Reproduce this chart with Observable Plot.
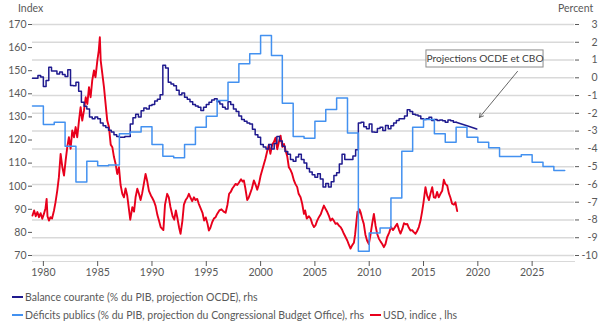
<!DOCTYPE html>
<html><head><meta charset="utf-8">
<script src="https://cdn.jsdelivr.net/npm/d3@7"></script>
<script src="https://cdn.jsdelivr.net/npm/@observablehq/plot@0.6"></script>
<style>
body{margin:0;background:#fff;font-family:Lato,sans-serif;}
#wrap{position:relative;width:605px;height:323px;overflow:hidden;}
.lbl{position:absolute;top:2px;font-size:10.5px;color:#595959;}
.legend{position:absolute;left:12px;font-size:10.5px;color:#595959;white-space:nowrap;line-height:14px;}
.sw{display:inline-block;width:11px;height:2px;vertical-align:middle;margin-right:2px;position:relative;top:-1px;}
.item{margin-right:6px;}
</style></head><body>
<div id="wrap">
<div id="chart"></div>
<div class="lbl" style="left:18px">Index</div>
<div class="lbl" style="left:558px">Percent</div>
<div class="legend" id="lg1" style="top:290px"></div>
<div class="legend" id="lg2" style="top:308px"></div>
</div>
<script>
// ---------- data ----------
const seriesNames = ["Balance courante (% du PIB, projection OCDE), rhs",
  "Déficits publics (% du PIB, projection du Congressional Budget Office), rhs",
  "USD, indice , lhs"];
const xTicks = [1980,1985,1990,1995,2000,2005,2010,2015,2020,2025];
const leftTicks = [70,80,90,100,110,120,130,140,150,160,170];
const rightTicks = [-10,-9,-8,-7,-6,-5,-4,-3,-2,-1,0,1,2,3];

// current account, % GDP, quarterly from 1979Q1 to 2017Q4
const caStart = 1979;
const caQuarterly = [
  -0.02,-0.02,0.13,0.04,  -0.49,-0.15,0.6,0.38,  0.38,0.22,0.32,0.18,  0.07,0.45,-0.43,-0.45,
  -0.25,-0.75,-1.37,-1.6,  -1.75,-2.2,-2.3,-2.2,  -2.3,-2.55,-2.7,-2.8,  -2.95,-3.05,-3.2,-3.3,
  -3.35,-3.35,-3.3,-3.3,  -2.6,-2.25,-2.05,-2.2,  -1.85,-1.7,-1.75,-1.56,  -1.5,-1.3,-1.2,-0.95,
  0.7,0.55,-0.25,-0.35,  -0.45,-0.7,-0.95,-0.85,  -1.1,-1.2,-1.35,-1.5,  -1.58,-1.65,-1.84,-1.65,
  -1.5,-1.37,-1.25,-1.18,  -1.35,-1.47,-1.65,-1.75,  -1.35,-1.5,-1.75,-1.9,  -2.15,-2.35,-2.45,-2.55,
  -2.6,-2.9,-3.2,-3.35,  -3.75,-3.9,-4.0,-3.75,  -4.0,-3.7,-3.3,-3.55,  -3.85,-4.15,-4.3,-4.6,
  -4.7,-4.45,-4.3,-4.6,  -4.8,-5.1,-5.3,-5.45,  -5.6,-5.4,-5.7,-6.15,  -5.95,-6.15,-5.85,-5.5,
  -5.35,-4.85,-4.3,-4.6,  -4.6,-4.6,-4.4,-4.05,  -2.55,-2.5,-2.75,-2.87,  -2.6,-3.05,-3.06,-2.85,
  -2.78,-2.97,-2.68,-2.87,  -2.7,-2.55,-2.4,-2.3,  -2.3,-2.15,-1.8,-1.9,  -2.05,-2.1,-2.15,-2.3,
  -2.35,-2.3,-2.22,-2.4,  -2.35,-2.4,-2.38,-2.42,  -2.5,-2.37,-2.42,-2.5
];
// OECD projection
const caProjYears = [2018.0, 2019.0, 2019.9];
const caProjValues = [-2.5, -2.7, -2.88];

// federal budget balance, % GDP, annual 1979..2027 (CBO projection after 2017)
const defStart = 1979;
const deficits = [-1.58,-2.63,-2.5,-3.85,-5.87,-4.69,-4.95,-4.9,-3.15,-3.05,
  -2.75,-3.75,-4.41,-4.5,-3.75,-2.78,-2.16,-1.28,-0.25,0.79,
  1.35,2.38,1.26,-1.43,-3.3,-3.4,-2.44,-1.78,-1.13,-3.1,
  -9.76,-8.73,-8.45,-6.77,-4.13,-2.78,-2.35,-3.15,-3.62,-2.78,
  -3.34,-3.62,-3.94,-4.43,-4.43,-4.33,-4.75,-4.99,-5.22];

// USD index (lhs)
const usdYears = [1979.0,1979.15,1979.3,1979.45,1979.6,1979.75,1979.9,1980.05,1980.2,1980.3,1980.38,1980.52,1980.65,1980.8,1980.98,
 1981.12,1981.28,1981.43,1981.59,1981.75,1981.9,1982.05,1982.2,1982.35,1982.51,1982.66,1982.82,1982.97,1983.12,1983.28,1983.43,1983.58,1983.74,1983.9,
 1984.05,1984.2,1984.35,1984.5,1984.66,1984.8,1984.97,1985.1,1985.2,1985.28,1985.43,1985.58,1985.73,1985.88,1986.04,1986.2,1986.35,1986.5,1986.65,1986.8,1986.96,
 1987.11,1987.27,1987.42,1987.57,1987.72,1987.88,1988.0,1988.19,1988.35,1988.49,1988.65,1988.8,1988.95,1989.1,1989.25,1989.41,1989.55,1989.72,1989.9,
 1990.02,1990.18,1990.33,1990.5,1990.65,1990.8,1991.05,1991.2,1991.4,1991.55,1991.7,1991.9,1992.05,1992.2,1992.35,1992.5,1992.63,1992.8,1992.94,
 1993.1,1993.25,1993.4,1993.55,1993.7,1993.86,1994.0,1994.17,1994.3,1994.5,1994.65,1994.8,1994.95,1995.1,1995.24,1995.38,1995.55,1995.7,1995.86,
 1996.0,1996.2,1996.4,1996.6,1996.78,1996.95,1997.1,1997.25,1997.4,1997.55,1997.7,1997.85,1998.0,1998.2,1998.35,1998.46,1998.6,1998.77,1998.9,
 1999.05,1999.2,1999.38,1999.55,1999.69,1999.85,2000.0,2000.15,2000.3,2000.45,2000.6,2000.76,2000.9,2001.07,2001.22,2001.38,2001.53,2001.68,2001.84,
 2002.0,2002.15,2002.3,2002.45,2002.6,2002.76,2002.9,2003.07,2003.2,2003.37,2003.5,2003.68,2003.83,2003.99,2004.1,2004.25,2004.45,2004.6,2004.76,2004.91,
 2005.05,2005.2,2005.37,2005.55,2005.7,2005.83,2006.0,2006.14,2006.3,2006.44,2006.6,2006.75,2006.9,2007.05,2007.2,2007.36,2007.52,2007.67,2007.82,2007.98,
 2008.1,2008.28,2008.44,2008.59,2008.7,2008.85,2008.92,2009.0,2009.1,2009.2,2009.35,2009.5,2009.65,2009.8,2009.97,2010.12,2010.27,2010.43,2010.58,2010.73,2010.9,
 2011.05,2011.2,2011.35,2011.5,2011.65,2011.85,2012.0,2012.2,2012.4,2012.57,2012.75,2012.88,2013.05,2013.2,2013.35,2013.5,2013.65,2013.8,2013.95,
 2014.1,2014.26,2014.4,2014.57,2014.72,2014.87,2015.0,2015.18,2015.33,2015.5,2015.65,2015.8,2015.95,2016.1,2016.25,2016.4,2016.56,2016.72,2016.87,
 2017.0,2017.18,2017.33,2017.48,2017.63,2017.8,2017.94,2018.1];
const usdValues = [87.3,89.5,87.0,88.8,86.6,88.3,85.9,88.0,90.5,94.5,87.0,85.1,86.6,86.0,89.5,
 93.1,98.1,103.9,114.0,108.2,104.6,111.1,116.9,121.2,116.2,124.1,121.2,125.6,121.2,128.4,134.2,128.4,132.8,138.5,
 135.6,142.9,138.5,145.8,150.1,147.2,154.4,158.7,164.5,154.4,148.6,142.9,135.6,128.4,125.6,118.0,116.9,112.6,109.7,105.3,108.2,
 100.5,96.7,95.2,99.0,96.0,90.0,85.5,90.9,89.0,95.2,98.9,96.7,94.0,97.0,101.0,105.3,102.5,98.0,96.0,
 95.0,93.5,91.5,87.5,85.0,82.3,81.0,92.0,96.7,95.2,91.0,87.0,85.5,89.5,86.0,82.0,79.4,85.0,92.0,
 94.0,95.0,96.7,95.0,93.5,95.2,94.0,94.5,92.5,90.2,88.5,85.1,86.5,84.0,80.8,82.0,84.5,86.0,86.6,
 88.0,89.5,90.0,89.0,88.5,92.0,96.7,97.5,99.0,100.0,101.0,100.5,101.5,103.0,102.0,102.5,99.0,94.0,95.0,
 97.0,99.0,102.5,100.5,98.5,101.0,104.5,107.0,109.5,112.0,115.0,118.0,114.0,118.0,119.1,121.0,116.0,119.0,121.9,
 117.0,118.3,115.5,113.0,108.2,107.0,105.4,102.5,101.0,99.6,96.7,95.2,92.4,88.0,89.5,86.0,87.0,86.0,83.7,82.3,
 83.0,85.0,86.6,88.0,90.0,91.6,90.0,88.8,87.0,85.1,86.0,85.0,83.7,84.0,83.0,82.3,81.0,79.4,78.0,76.5,
 75.0,73.0,74.5,75.5,79.0,86.0,89.0,88.0,90.0,88.8,86.0,83.7,79.0,76.5,75.0,79.0,83.7,88.0,83.0,79.4,77.2,
 76.0,75.0,73.6,75.0,77.9,80.0,82.3,81.0,82.5,83.7,81.0,79.5,81.5,84.0,83.5,83.7,82.0,80.8,81.0,
 80.1,79.4,80.5,82.3,85.0,89.0,93.0,99.6,96.0,94.0,97.0,99.6,95.2,95.0,97.5,95.2,96.7,98.0,102.8,
 101.0,100.3,97.0,95.0,92.4,92.0,93.0,89.2];

// ---------- annotation layout ----------
const note = {text: "Projections OCDE et CBO", x1: 2015.27, x2: 2026.05, y1: 0.58, y2: 1.54,
  ax1: 2023.65, ay1: 0.36, ax2: 2020.15, ay2: -2.23};

// ---------- build ----------
const toPct = v => -10 + (v - 70) * 13 / 100;
const fromPct = p => 70 + (p + 10) * 100 / 13;

const caData = caQuarterly.map((v, i) => ({year: caStart + i / 4, value: v}));
caData.push({year: caProjYears[0], value: caProjValues[0]});
const caProj = caProjYears.map((y, i) => ({year: y, value: caProjValues[i]}));
const defData = deficits.map((v, i) => ({year: defStart + i, value: v}));
defData.push({year: defStart + deficits.length, value: deficits[deficits.length - 1]});
const usdData = usdYears.map((y, i) => ({year: y, value: toPct(usdValues[i])}));

const colors = ["#1f1a8e", "#4391f0", "#e8001c"];

const chart = Plot.plot({
  width: 605, height: 282,
  marginLeft: 32, marginRight: 31, marginTop: 24, marginBottom: 21,
  insetBottom: 6,
  x: {domain: [1979, 2028.9]},
  y: {domain: [-10, 3]},
  style: {fontFamily: "Lato, sans-serif", fontSize: "10.5px", color: "#595959", background: "white", overflow: "visible"},
  marks: [
    Plot.gridY(rightTicks, {stroke: "#d9d9d9", strokeOpacity: 1, strokeWidth: 1.5}),
    Plot.frame({anchor: "bottom", stroke: "#d9d9d9"}),
    Plot.axisX(xTicks, {tickSize: 5, tickPadding: 2, tickFormat: d => String(d), label: null}),
    Plot.axisY(leftTicks.map(toPct), {anchor: "left", tickSize: 4, tickPadding: 2, tickFormat: d => String(Math.round(fromPct(d))), label: null}),
    Plot.axisY(rightTicks, {anchor: "right", tickSize: 4, tickPadding: 19, textAnchor: "end", tickFormat: d => String(d), label: null}),
    Plot.line(usdData, {x: "year", y: "value", stroke: colors[2], strokeWidth: 1.9}),
    Plot.line(caData, {x: "year", y: "value", curve: "step-after", stroke: colors[0], strokeWidth: 1.5}),
    Plot.line(caProj, {x: "year", y: "value", stroke: colors[0], strokeWidth: 1.5}),
    Plot.line(defData, {x: "year", y: "value", curve: "step-after", stroke: colors[1], strokeWidth: 1.5}),
    Plot.rect([note], {x1: "x1", x2: "x2", y1: "y1", y2: "y2", fill: "white", stroke: "#8c8c8c", strokeWidth: 1}),
    Plot.text([note], {x: d => (d.x1 + d.x2) / 2, y: d => (d.y1 + d.y2) / 2, text: "text", fill: "#404040", fontSize: 10.2}),
    Plot.arrow([note], {x1: "ax1", y1: "ay1", x2: "ax2", y2: "ay2", stroke: "#404040", strokeWidth: 0.8, headLength: 8})
  ]
});
document.getElementById("chart").appendChild(chart);

function item(i) {
  return `<span class="item"><span class="sw" style="background:${colors[i]}"></span>${seriesNames[i]}</span>`;
}
document.getElementById("lg1").innerHTML = item(0);
document.getElementById("lg2").innerHTML = item(1) + item(2);
</script>
</body></html>
